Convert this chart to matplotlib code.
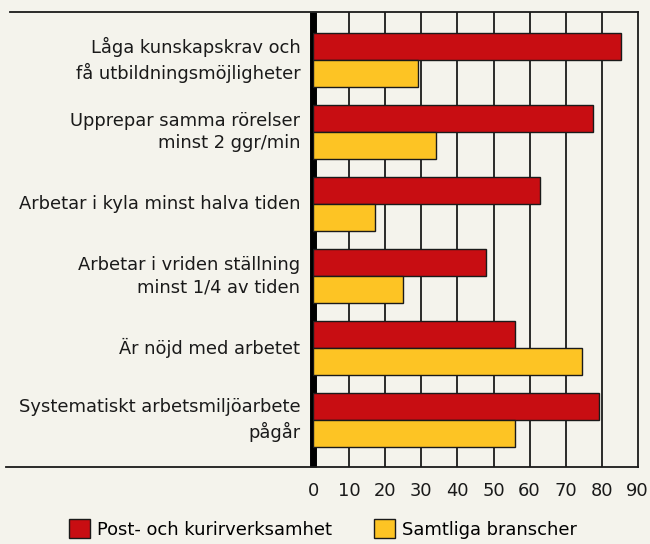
import numpy as np
import matplotlib.pyplot as plt
from matplotlib.patches import Patch

categories = [
    "Låga kunskapskrav och\nfå utbildningsmöjligheter",
    "Upprepar samma rörelser\nminst 2 ggr/min",
    "Arbetar i kyla minst halva tiden",
    "Arbetar i vriden ställning\nminst 1/4 av tiden",
    "Är nöjd med arbetet",
    "Systematiskt arbetsmiljöarbete\npågår",
]
post = [85.5, 77.7, 63, 48, 56, 79.3]
samtliga = [29, 34, 17, 25, 74.5, 56]
xticks = [0, 10, 20, 30, 40, 50, 60, 70, 80, 90]

bg = "#F4F3EC"
red = "#C80D12"
yellow = "#FDC424"

plt.rcParams['font.family'] = ['DejaVu Sans']
fs = 12.9

fig = plt.figure(figsize=(6.5, 5.44), dpi=100, facecolor=bg)
W, H = 650, 544
ax = fig.add_axes([313.3/W, 1 - 466.7/H, (637.7-313.3)/W, (466.7-12)/H])
ax.set_facecolor(bg)

y = np.arange(len(categories))
h = 0.38
ax.barh(y - h/2, post, height=h, color=red, edgecolor="#1a1a1a", linewidth=1, zorder=3)
ax.barh(y + h/2, samtliga, height=h, color=yellow, edgecolor="#1a1a1a", linewidth=1, zorder=3)

for v in xticks[1:-1]:
    ax.axvline(v, color="#1a1a1a", lw=1.3, zorder=1)
ax.axvline(0, color="black", lw=5, zorder=2, clip_on=False, solid_capstyle='butt')

ax.set_xlim(0, 90)
ax.set_ylim(len(categories) - 1 + 0.65, -0.667)
ax.set_xticks(xticks)
ax.tick_params(axis='x', length=0, pad=11, labelsize=fs, colors="#1a1a1a")
ax.set_yticks([])

for s in ['left', 'top', 'bottom']:
    ax.spines[s].set_visible(False)
ax.spines['right'].set_color("#1a1a1a")
ax.spines['right'].set_linewidth(1.3)

# top and bottom rules extend to the left under the labels
ax.plot([-303.3/324.4, 1], [1, 1], transform=ax.transAxes, color="#1a1a1a", lw=1.3, clip_on=False)
ax.plot([-307.3/324.4, 1], [0, 0], transform=ax.transAxes, color="#1a1a1a", lw=1.3, clip_on=False)

for yi, lab in zip(y, categories):
    ax.text(-13/324.4*90, yi, lab, ha='right', va='center', fontsize=fs,
            color="#1a1a1a", linespacing=1.35)

handles = [Patch(facecolor=red, edgecolor="#1a1a1a", label="Post- och kurirverksamhet"),
           Patch(facecolor=yellow, edgecolor="#1a1a1a", label="Samtliga branscher")]
fig.legend(handles=handles, loc='center', bbox_to_anchor=(323/W, 1 - 529/H), ncol=2,
           frameon=False, handlelength=1.2, handleheight=1.2, handletextpad=0.4,
           columnspacing=2.3, fontsize=fs)

fig.savefig("out.png", dpi=100, facecolor=bg)
